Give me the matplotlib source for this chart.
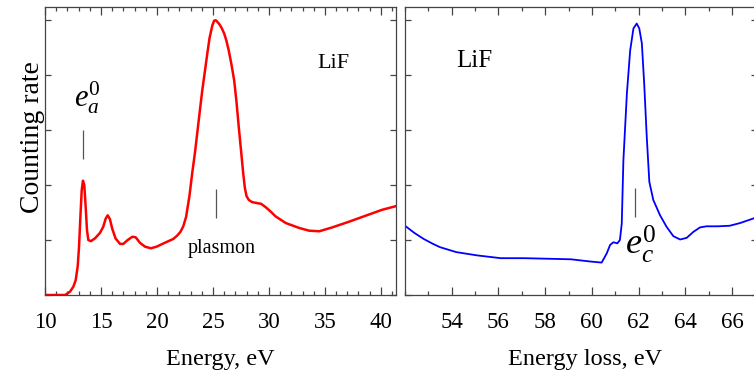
import numpy as np
import matplotlib
matplotlib.use("Agg")
import matplotlib.pyplot as plt
from matplotlib.ticker import MultipleLocator, NullFormatter

# LiF spectrum, left panel (energy, counting rate in tick units)
energy = [9.9, 10.9, 11.8, 12.23, 12.53, 12.74, 12.92, 13.04, 13.16, 13.28, 13.39,
          13.51, 13.63, 13.75, 13.87, 14.1, 14.46, 14.91, 15.2, 15.42, 15.6, 15.8,
          16.0, 16.3, 16.7, 17.0, 17.38, 17.8, 18.1, 18.48, 18.93, 19.46, 19.97,
          20.7, 21.46, 21.8, 22.1, 22.35, 22.6, 22.9, 23.15, 23.4, 23.6, 23.8,
          24.05, 24.3, 24.5, 24.7, 24.94, 25.1, 25.25, 25.4, 25.6, 25.8, 26.0,
          26.2, 26.4, 26.65, 26.9, 27.1, 27.3, 27.5, 27.7, 27.85, 28.0, 28.2,
          28.5, 29.0, 29.3, 29.7, 30.2, 30.6, 31.5, 32.7, 33.6, 34.5, 35.65,
          37.1, 38.6, 40.1, 41.4]
rate = [0.0, 0.0, 0.0, 0.06, 0.15, 0.27, 0.52, 0.88, 1.42, 1.91, 2.08,
        2.0, 1.61, 1.18, 1.0, 0.98, 1.03, 1.13, 1.24, 1.39, 1.45, 1.38,
        1.21, 1.03, 0.93, 0.93, 1.0, 1.06, 1.05, 0.95, 0.88, 0.85, 0.88,
        0.95, 1.02, 1.08, 1.15, 1.25, 1.42, 1.8, 2.22, 2.6, 2.95, 3.3,
        3.73, 4.1, 4.4, 4.68, 4.9, 4.99, 5.0, 4.97, 4.92, 4.85, 4.76,
        4.63, 4.46, 4.2, 3.9, 3.52, 3.07, 2.65, 2.22, 1.95, 1.8, 1.73,
        1.69, 1.67, 1.66, 1.6, 1.51, 1.43, 1.31, 1.22, 1.17, 1.16, 1.23,
        1.33, 1.44, 1.55, 1.62]

# LiF core-loss spectrum, right panel
loss = [52.0, 52.4, 52.8, 53.2, 53.5, 54.2, 55.1, 56.1, 57.1, 58.1, 59.1, 59.92,
        60.42, 60.64, 60.78, 60.92, 61.09, 61.2, 61.28, 61.35, 61.5, 61.64, 61.78,
        61.92, 62.03, 62.14, 62.24, 62.35, 62.46, 62.63, 62.92, 63.2, 63.49,
        63.78, 64.06, 64.35, 64.63, 64.9, 65.4, 65.9, 66.35, 67.1]
loss_rate = [1.26, 1.13, 1.02, 0.93, 0.87, 0.78, 0.72, 0.67, 0.67, 0.66, 0.65, 0.61,
             0.59, 0.76, 0.91, 0.96, 0.94, 1.0, 1.3, 2.45, 3.67, 4.45, 4.85,
             4.94, 4.85, 4.58, 3.85, 2.88, 2.06, 1.73, 1.45, 1.24, 1.07,
             1.01, 1.04, 1.15, 1.23, 1.25, 1.25, 1.26, 1.31, 1.42]

left_ticks = [10, 15, 20, 25, 30, 35, 40]
right_ticks = [54, 56, 58, 60, 62, 64, 66]

# marker positions (x, y_bottom, y_top)
ea_mark = (13.37, 2.47, 3.0)
plasmon_mark = (25.25, 1.4, 1.93)
ec_mark = (61.85, 1.42, 1.95)

plt.rcParams["font.family"] = ["Liberation Serif", "DejaVu Serif"]
plt.rcParams["mathtext.fontset"] = "custom"
plt.rcParams["mathtext.rm"] = "Liberation Serif"
plt.rcParams["mathtext.it"] = "Liberation Serif:italic"

spine_col = "#444444"


def style_axes(ax):
    for s in ax.spines.values():
        s.set_color(spine_col)
        s.set_linewidth(0.9)
    ax.tick_params(axis="both", which="both", direction="in", top=True, right=True,
                   color=spine_col, width=0.9)
    ax.tick_params(axis="x", which="major", length=5.8, labelsize=16.5, pad=12)
    ax.tick_params(axis="x", which="minor", length=2.9)
    ax.tick_params(axis="y", which="major", length=4.5)
    ax.set_ylim(0, 5.25)
    ax.set_yticks([0, 1, 2, 3, 4, 5])
    ax.yaxis.set_major_formatter(NullFormatter())
    ax.xaxis.set_minor_locator(MultipleLocator(1))


fig = plt.figure(figsize=(7.54, 3.75), dpi=100)
ax1 = fig.add_axes([45 / 754, 80 / 375, 351 / 754, 288.5 / 375])
ax2 = fig.add_axes([405 / 754, 80 / 375, 352 / 754, 288.5 / 375])

# left panel
ax1.plot(energy, rate, color="#ff0000", lw=1.8, solid_joinstyle="round")
ax1.set_xlim(10, 41.35)
ax1.set_xticks(left_ticks)
style_axes(ax1)
ax1.vlines(ea_mark[0], ea_mark[1], ea_mark[2], color="#555555", lw=0.9)
ax1.vlines(plasmon_mark[0], plasmon_mark[1], plasmon_mark[2], color="#555555", lw=0.9)
ax1.text(13.75, 3.6, r"$e_a^0$", fontsize=22, ha="center", va="center")
ax1.text(25.78, 0.85, "plasmon", fontsize=14.5, ha="center", va="center")
ax1.text(35.79, 4.22, "LiF", fontsize=16, ha="center", va="center")
ax1.set_xlabel("Energy, eV", fontsize=17.5, va="center")
ax1.xaxis.set_label_coords(0.5, (295 - 359) / 288.5)
ax1.set_ylabel("Counting rate", fontsize=20, va="center")
ax1.yaxis.set_label_coords((33 - 45) / 351, (295 - 137) / 288.5)

# right panel
ax2.plot(loss, loss_rate, color="#0000ff", lw=1.3, solid_joinstyle="round")
ax2.set_xlim(52, 67.07)
ax2.set_xticks(right_ticks)
style_axes(ax2)
ax2.vlines(ec_mark[0], ec_mark[1], ec_mark[2], color="#555555", lw=0.9)
ax2.text(62.1, 0.93, r"$e_c^0$", fontsize=26, ha="center", va="center")
ax2.text(54.95, 4.25, "LiF", fontsize=18, ha="center", va="center")
ax2.set_xlabel("Energy loss, eV", fontsize=17.5, va="center")
ax2.xaxis.set_label_coords((585 - 405) / 352, (295 - 359) / 288.5)

fig.savefig("out.png", dpi=100)
